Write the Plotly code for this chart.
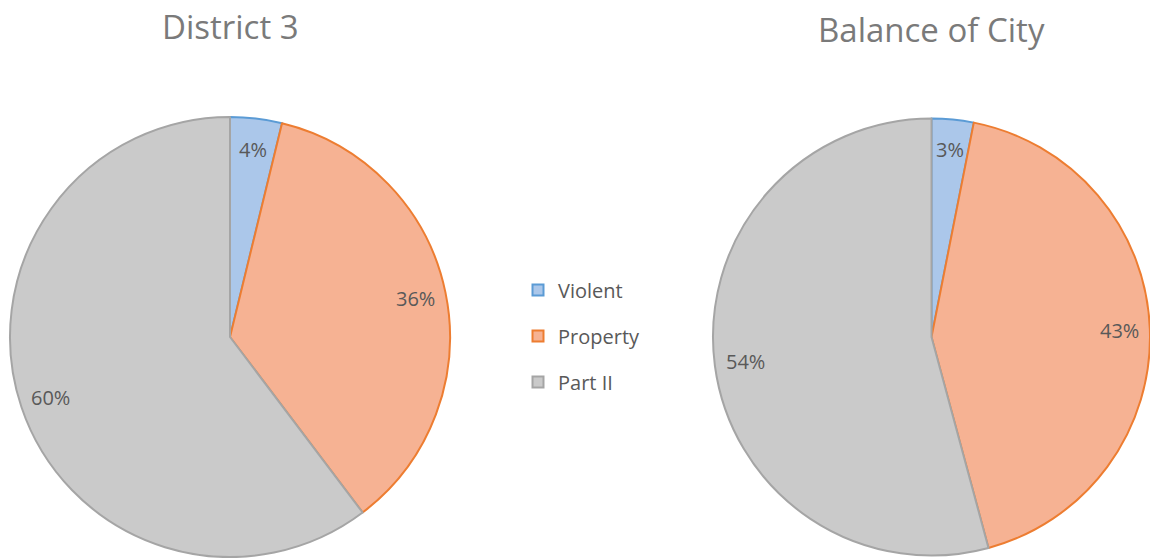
import math
import plotly.graph_objects as go

categories = ["Violent", "Property", "Part II"]
district3 = [3.8, 35.9, 60.3]
balance_city = [3.1, 42.7, 54.2]
titles = ["District 3", "Balance of City"]

fill_colors = ["#abc7ea", "#f6b293", "#cacaca"]
line_colors = ["#5b9bd5", "#ed7d31", "#a5a5a5"]

W, H = 1150, 558
FONT = "Open Sans, Liberation Sans, sans-serif"
TXT = "#595959"

# pie geometry in pixels
pies = [
    dict(values=district3, title=titles[0], x0=10, x1=450, title_y=27),
    dict(values=balance_city, title=titles[1], x0=713, x1=W, title_y=30),
]
TOP, BOTTOM = 117, 557

fig = go.Figure()
for p in pies:
    R = min(p["x1"] - p["x0"], BOTTOM - TOP) / 2
    cx = (p["x0"] + p["x1"]) / 2
    cy = (TOP + BOTTOM) / 2
    fig.add_trace(go.Pie(
        values=p["values"], labels=categories, name=p["title"],
        sort=False, direction="clockwise", rotation=0,
        textinfo="none", showlegend=False,
        marker=dict(colors=fill_colors, line=dict(color=line_colors, width=2)),
        domain=dict(x=[p["x0"] / W, p["x1"] / W], y=[(H - BOTTOM) / H, (H - TOP) / H]),
        hoverinfo="label+percent",
    ))
    total = sum(p["values"])
    cum = 0.0
    for v in p["values"]:
        mid = (cum + v / 2) / total * 2 * math.pi
        cum += v
        r = 0.86 * R
        fig.add_annotation(
            text=f"{round(v / total * 100)}%",
            x=(cx + r * math.sin(mid)) / W, y=1 - (cy - r * math.cos(mid)) / H,
            xref="paper", yref="paper", showarrow=False,
            xanchor="center", yanchor="middle",
            font=dict(family=FONT, size=20, color=TXT),
        )
    fig.add_annotation(text=p["title"], x=cx / W, y=1 - p["title_y"] / H,
                       xref="paper", yref="paper", showarrow=False,
                       font=dict(family=FONT, size=33, color="#7a7a7a"),
                       xanchor="center", yanchor="middle")

# legend entries
for i, c in enumerate(categories):
    fig.add_trace(go.Scatter(
        x=[None], y=[None], mode="markers", name=c, legendgroup=c,
        marker=dict(symbol="square", size=11, color=fill_colors[i],
                    line=dict(color=line_colors[i], width=2)),
        hoverinfo="skip",
    ))

fig.update_layout(
    width=W, height=H,
    margin=dict(l=0, r=0, t=0, b=0),
    paper_bgcolor="white",
    plot_bgcolor="white",
    xaxis=dict(visible=False), yaxis=dict(visible=False),
    showlegend=True,
    legend=dict(x=518 / W, y=1 - 336 / H, xanchor="left", yanchor="middle",
                font=dict(family=FONT, size=20, color=TXT),
                bgcolor="rgba(0,0,0,0)", tracegroupgap=17, itemwidth=30),
)

fig.write_html("out.html", config={"displayModeBar": False},
               post_script="document.body.style.margin='0';document.body.style.overflow='hidden';")
